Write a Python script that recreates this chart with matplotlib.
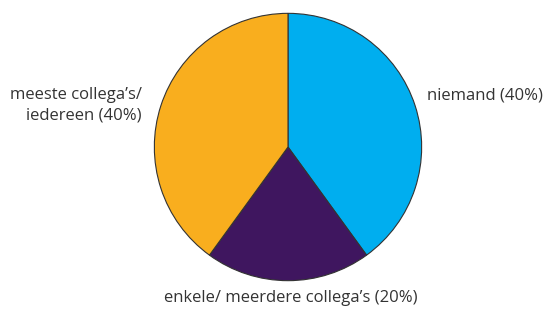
import matplotlib.pyplot as plt

labels = ["niemand (40%)", "enkele/ meerdere collega\u2019s (20%)", "meeste collega\u2019s/\niedereen (40%)"]
values = [40, 20, 40]
colors = ["#00AEEF", "#3F165F", "#F9AE1E"]

plt.rcParams['font.family'] = ['Open Sans', 'DejaVu Sans']

W, H = 546, 311
fig = plt.figure(figsize=(W / 100, H / 100), dpi=100)
ax = fig.add_axes([153 / W, 29 / H, 270 / W, 270 / H])
ax.pie(values, colors=colors, startangle=90, counterclock=False,
       wedgeprops=dict(edgecolor="#333333", linewidth=0.8))
ax.set_xlim(-1.01, 1.01)
ax.set_ylim(-1.01, 1.01)
ax.set_aspect('equal')
ax.axis('off')

txt = dict(fontsize=12, color="#333333")
fig.text(427 / W, 1 - 95 / H, labels[0], ha='left', va='center', **txt)
fig.text(291 / W, 1 - 298 / H, labels[1], ha='center', va='center', **txt)
fig.text(142 / W, 1 - 105 / H, labels[2], ha='right', va='center',
         multialignment='right', linespacing=1.4, **txt)

fig.savefig('out.png', dpi=100)
